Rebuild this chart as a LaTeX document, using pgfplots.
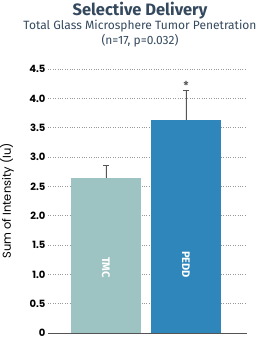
\documentclass[border=0pt]{standalone}
\usepackage{pgfplots}
\pgfplotsset{compat=1.18}
\usepackage{fontspec}
\setmainfont{Fira Sans}
\newfontfamily\popp{Poppins}
\definecolor{tmc}{HTML}{9DC4C2}
\definecolor{pedd}{HTML}{2E86BA}
\definecolor{ttl}{HTML}{34495E}
\definecolor{axc}{HTML}{555555}
\begin{document}
\begin{tikzpicture}
\path[use as bounding box] (-48pt,-7pt) rectangle (232pt,333pt);
\begin{axis}[
  scale only axis, width=199pt, height=264pt,
  xmin=-0.725, xmax=1.7625, ymin=0, ymax=4.5,
  axis x line*=bottom, axis y line*=left,
  x axis line style={draw=axc, line width=0.8pt, -},
  y axis line style={draw=none},
  xtick=\empty,
  ytick={0,0.5,...,4.5},
  yticklabels={0,0.5,1.0,1.5,2.0,2.5,3.0,3.5,4.0,4.5},
  yticklabel style={font=\popp\bfseries\fontsize{10}{11}\selectfont, text=black, xshift=1pt},
  ymajorgrids, grid style={dotted, gray!80, line width=0.6pt},
  major tick length=0pt,
  clip=false,
  ylabel={Sum of Intensity (Iu)},
  ylabel style={font=\popp\fontsize{11.5}{12}\selectfont, at={(axis description cs:0,0.5)}, anchor=center, yshift=41pt},
]
\addplot[ybar, bar width=70pt, fill=tmc, draw=none,
  error bars/.cd, y dir=plus, y explicit, error bar style={axc, line width=0.8pt}, error mark options={rotate=90, mark size=3pt, axc, line width=0.8pt}]
  coordinates {(0,2.64) +- (0,0.21)};
\addplot[ybar, bar width=70pt, fill=pedd, draw=none,
  error bars/.cd, y dir=plus, y explicit, error bar style={axc, line width=0.8pt}, error mark options={rotate=90, mark size=3pt, axc, line width=0.8pt}]
  coordinates {(1,3.63) +- (0,0.50)};
\node[rotate=-90, anchor=east, text=white, font=\bfseries\fontsize{11}{12}\selectfont] at (axis cs:0,0.88) {TMC};
\node[rotate=-90, anchor=east, text=white, font=\bfseries\fontsize{11}{12}\selectfont] at (axis cs:1,0.88) {PEDD};
\node[text=axc, font=\bfseries\fontsize{11}{11}\selectfont] at (axis cs:1,4.22) {*};
\end{axis}
\node[text=ttl, font=\bfseries\fontsize{16.5}{17}\selectfont] at (92pt,322pt) {Selective Delivery};
\node[text=ttl, font=\fontsize{12}{13}\selectfont] at (92pt,307pt) {Total Glass Microsphere Tumor Penetration};
\node[text=ttl, font=\fontsize{12}{13}\selectfont] at (92pt,292pt) {(n=17, p=0.032)};
\end{tikzpicture}
\end{document}
